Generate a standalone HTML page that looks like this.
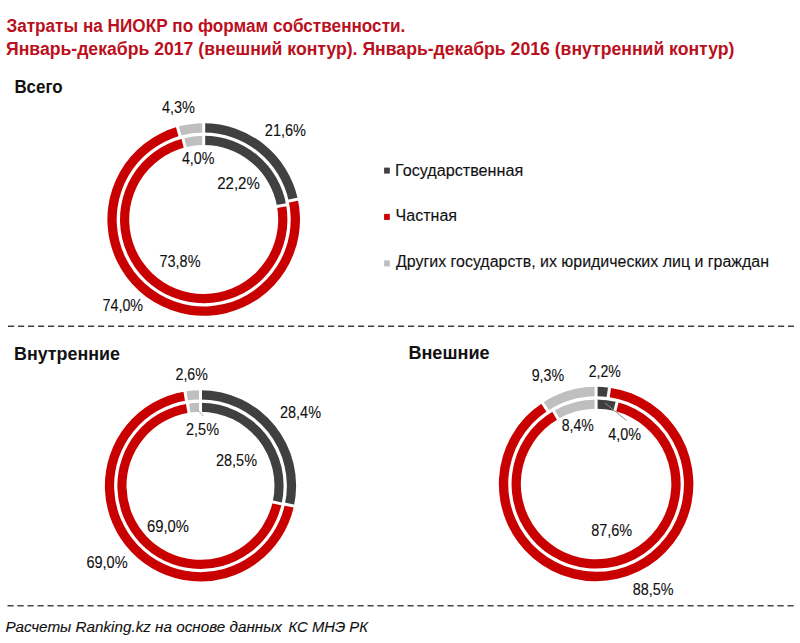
<!DOCTYPE html>
<html><head><meta charset="utf-8"><style>
html,body{margin:0;padding:0;background:#fff;width:800px;height:643px;overflow:hidden}
svg{display:block;font-family:"Liberation Sans",sans-serif}
</style></head><body>
<svg width="800" height="643" viewBox="0 0 800 643">
<rect width="800" height="643" fill="#fff"/>
<path d="M203.70,123.20A96.30,96.30 0 0 1 297.81,199.08L288.72,201.06A87.00,87.00 0 0 0 203.70,132.50Z" fill="#404040"/>
<path d="M297.81,199.08A96.30,96.30 0 1 1 177.41,126.86L179.95,135.80A87.00,87.00 0 1 0 288.72,201.06Z" fill="#C80000"/>
<path d="M177.41,126.86A96.30,96.30 0 0 1 203.70,123.20L203.70,132.50A87.00,87.00 0 0 0 179.95,135.80Z" fill="#BFBFBF"/>
<path d="M203.70,135.80A83.70,83.70 0 0 1 286.11,204.85L277.05,206.46A74.50,74.50 0 0 0 203.70,145.00Z" fill="#404040"/>
<path d="M286.11,204.85A83.70,83.70 0 1 1 182.88,138.43L185.17,147.34A74.50,74.50 0 1 0 277.05,206.46Z" fill="#C80000"/>
<path d="M182.88,138.43A83.70,83.70 0 0 1 203.70,135.80L203.70,145.00A74.50,74.50 0 0 0 185.17,147.34Z" fill="#BFBFBF"/>
<line x1="203.70" y1="134.50" x2="203.70" y2="121.20" stroke="#fff" stroke-width="3.0"/>
<line x1="286.77" y1="201.48" x2="299.77" y2="198.66" stroke="#fff" stroke-width="3.0"/>
<line x1="180.50" y1="137.73" x2="176.87" y2="124.93" stroke="#fff" stroke-width="3.0"/>
<line x1="203.70" y1="147.00" x2="203.70" y2="133.80" stroke="#fff" stroke-width="3.0"/>
<line x1="275.08" y1="206.81" x2="288.08" y2="204.50" stroke="#fff" stroke-width="3.0"/>
<line x1="185.67" y1="149.28" x2="182.39" y2="136.49" stroke="#fff" stroke-width="3.0"/>
<path d="M200.50,390.17A95.63,95.63 0 0 1 293.95,506.07L284.93,504.12A86.39,86.39 0 0 0 200.50,399.41Z" fill="#404040"/>
<path d="M293.95,506.07A95.63,95.63 0 1 1 184.95,391.45L186.45,400.56A86.39,86.39 0 1 0 284.93,504.12Z" fill="#C80000"/>
<path d="M184.95,391.45A95.63,95.63 0 0 1 200.50,390.17L200.50,399.41A86.39,86.39 0 0 0 186.45,400.56Z" fill="#BFBFBF"/>
<path d="M200.50,402.69A83.11,83.11 0 0 1 281.61,503.93L272.70,501.94A73.98,73.98 0 0 0 200.50,411.82Z" fill="#404040"/>
<path d="M281.61,503.93A83.11,83.11 0 1 1 187.50,403.71L188.93,412.73A73.98,73.98 0 1 0 272.70,501.94Z" fill="#C80000"/>
<path d="M187.50,403.71A83.11,83.11 0 0 1 200.50,402.69L200.50,411.82A73.98,73.98 0 0 0 188.93,412.73Z" fill="#BFBFBF"/>
<line x1="200.50" y1="401.41" x2="200.50" y2="388.17" stroke="#fff" stroke-width="3.0"/>
<line x1="282.97" y1="503.69" x2="295.91" y2="506.50" stroke="#fff" stroke-width="3.0"/>
<line x1="186.77" y1="402.53" x2="184.62" y2="389.47" stroke="#fff" stroke-width="3.0"/>
<line x1="200.50" y1="413.82" x2="200.50" y2="400.69" stroke="#fff" stroke-width="3.0"/>
<line x1="270.75" y1="501.50" x2="283.56" y2="504.37" stroke="#fff" stroke-width="3.0"/>
<line x1="189.24" y1="414.71" x2="187.19" y2="401.73" stroke="#fff" stroke-width="3.0"/>
<path d="M596.10,386.74A97.26,97.26 0 0 1 609.50,387.66L608.21,396.97A87.87,87.87 0 0 0 596.10,396.13Z" fill="#404040"/>
<path d="M609.50,387.66A97.26,97.26 0 1 1 542.45,402.88L547.63,410.71A87.87,87.87 0 1 0 608.21,396.97Z" fill="#C80000"/>
<path d="M542.45,402.88A97.26,97.26 0 0 1 596.10,386.74L596.10,396.13A87.87,87.87 0 0 0 547.63,410.71Z" fill="#BFBFBF"/>
<path d="M596.10,399.46A84.54,84.54 0 0 1 617.12,402.12L614.81,411.12A75.25,75.25 0 0 0 596.10,408.75Z" fill="#404040"/>
<path d="M617.12,402.12A84.54,84.54 0 1 1 553.53,410.97L558.20,418.99A75.25,75.25 0 1 0 614.81,411.12Z" fill="#C80000"/>
<path d="M553.53,410.97A84.54,84.54 0 0 1 596.10,399.46L596.10,408.75A75.25,75.25 0 0 0 558.20,418.99Z" fill="#BFBFBF"/>
<line x1="596.10" y1="398.13" x2="596.10" y2="384.74" stroke="#fff" stroke-width="3.0"/>
<line x1="607.93" y1="398.95" x2="609.78" y2="385.68" stroke="#fff" stroke-width="3.0"/>
<line x1="548.73" y1="412.38" x2="541.34" y2="401.21" stroke="#fff" stroke-width="3.0"/>
<line x1="596.10" y1="410.75" x2="596.10" y2="397.46" stroke="#fff" stroke-width="3.0"/>
<line x1="614.32" y1="413.06" x2="617.62" y2="400.18" stroke="#fff" stroke-width="3.0"/>
<line x1="559.21" y1="420.72" x2="552.52" y2="409.24" stroke="#fff" stroke-width="3.0"/>
<line x1="197" y1="409.5" x2="203.5" y2="416" stroke="#A6A6A6" stroke-width="1"/>
<line x1="605" y1="403" x2="626.5" y2="420.5" stroke="#8C8C8C" stroke-width="1"/>
<rect x="384.1" y="167.6" width="5.7" height="6" fill="#404040"/>
<rect x="384.1" y="213.9" width="5.7" height="6" fill="#C80000"/>
<rect x="384.1" y="260.4" width="5.7" height="6" fill="#BFBFBF"/>
<line x1="8" y1="326.25" x2="794" y2="326.25" stroke="#404040" stroke-width="1.6" stroke-dasharray="6.2 3.8"/>
<line x1="7.5" y1="605.7" x2="794" y2="605.7" stroke="#484848" stroke-width="1.35" stroke-dasharray="6.2 3.8"/>
<text x="6.40" y="32.00" textLength="399.00" lengthAdjust="spacingAndGlyphs" font-size="17.5" font-weight="bold" font-style="normal" fill="#BA1020" stroke="#BA1020" stroke-width="0.0" xml:space="preserve">Затраты на НИОКР по формам собственности.</text>
<text x="6.00" y="55.00" textLength="728.40" lengthAdjust="spacingAndGlyphs" font-size="17.5" font-weight="bold" font-style="normal" fill="#BA1020" stroke="#BA1020" stroke-width="0.0" xml:space="preserve">Январь-декабрь 2017 (внешний контур). Январь-декабрь 2016 (внутренний контур)</text>
<text x="14.40" y="93.20" textLength="48.20" lengthAdjust="spacingAndGlyphs" font-size="17.5" font-weight="bold" font-style="normal" fill="#111" stroke="#111" stroke-width="0.0" xml:space="preserve">Всего</text>
<text x="395.00" y="175.50" textLength="128.20" lengthAdjust="spacingAndGlyphs" font-size="16" font-weight="normal" font-style="normal" fill="#111" stroke="#111" stroke-width="0.12" xml:space="preserve">Государственная</text>
<text x="395.60" y="221.20" textLength="61.40" lengthAdjust="spacingAndGlyphs" font-size="16" font-weight="normal" font-style="normal" fill="#111" stroke="#111" stroke-width="0.12" xml:space="preserve">Частная</text>
<text x="396.00" y="266.80" textLength="373.00" lengthAdjust="spacingAndGlyphs" font-size="16" font-weight="normal" font-style="normal" fill="#111" stroke="#111" stroke-width="0.12" xml:space="preserve">Других государств, их юридических лиц и граждан</text>
<text x="161.90" y="112.80" textLength="33.10" lengthAdjust="spacingAndGlyphs" font-size="16" font-weight="normal" font-style="normal" fill="#111" stroke="#111" stroke-width="0.12" xml:space="preserve">4,3%</text>
<text x="264.80" y="135.70" textLength="41.20" lengthAdjust="spacingAndGlyphs" font-size="16" font-weight="normal" font-style="normal" fill="#111" stroke="#111" stroke-width="0.12" xml:space="preserve">21,6%</text>
<text x="181.90" y="164.40" textLength="32.50" lengthAdjust="spacingAndGlyphs" font-size="16" font-weight="normal" font-style="normal" fill="#111" stroke="#111" stroke-width="0.12" xml:space="preserve">4,0%</text>
<text x="217.20" y="188.50" textLength="42.60" lengthAdjust="spacingAndGlyphs" font-size="16" font-weight="normal" font-style="normal" fill="#111" stroke="#111" stroke-width="0.12" xml:space="preserve">22,2%</text>
<text x="159.50" y="267.00" textLength="41.00" lengthAdjust="spacingAndGlyphs" font-size="16" font-weight="normal" font-style="normal" fill="#111" stroke="#111" stroke-width="0.12" xml:space="preserve">73,8%</text>
<text x="102.50" y="311.00" textLength="40.60" lengthAdjust="spacingAndGlyphs" font-size="16" font-weight="normal" font-style="normal" fill="#111" stroke="#111" stroke-width="0.12" xml:space="preserve">74,0%</text>
<text x="14.00" y="360.00" textLength="106.00" lengthAdjust="spacingAndGlyphs" font-size="17.5" font-weight="bold" font-style="normal" fill="#111" stroke="#111" stroke-width="0.0" xml:space="preserve">Внутренние</text>
<text x="408.40" y="359.40" textLength="81.20" lengthAdjust="spacingAndGlyphs" font-size="17.5" font-weight="bold" font-style="normal" fill="#111" stroke="#111" stroke-width="0.0" xml:space="preserve">Внешние</text>
<text x="175.50" y="379.50" textLength="32.30" lengthAdjust="spacingAndGlyphs" font-size="16" font-weight="normal" font-style="normal" fill="#111" stroke="#111" stroke-width="0.12" xml:space="preserve">2,6%</text>
<text x="280.00" y="418.00" textLength="41.00" lengthAdjust="spacingAndGlyphs" font-size="16" font-weight="normal" font-style="normal" fill="#111" stroke="#111" stroke-width="0.12" xml:space="preserve">28,4%</text>
<text x="186.00" y="435.40" textLength="33.00" lengthAdjust="spacingAndGlyphs" font-size="16" font-weight="normal" font-style="normal" fill="#111" stroke="#111" stroke-width="0.12" xml:space="preserve">2,5%</text>
<text x="216.00" y="466.40" textLength="41.00" lengthAdjust="spacingAndGlyphs" font-size="16" font-weight="normal" font-style="normal" fill="#111" stroke="#111" stroke-width="0.12" xml:space="preserve">28,5%</text>
<text x="147.00" y="532.40" textLength="42.00" lengthAdjust="spacingAndGlyphs" font-size="16" font-weight="normal" font-style="normal" fill="#111" stroke="#111" stroke-width="0.12" xml:space="preserve">69,0%</text>
<text x="86.40" y="568.00" textLength="41.20" lengthAdjust="spacingAndGlyphs" font-size="16" font-weight="normal" font-style="normal" fill="#111" stroke="#111" stroke-width="0.12" xml:space="preserve">69,0%</text>
<text x="531.70" y="381.00" textLength="32.50" lengthAdjust="spacingAndGlyphs" font-size="16" font-weight="normal" font-style="normal" fill="#111" stroke="#111" stroke-width="0.12" xml:space="preserve">9,3%</text>
<text x="588.70" y="376.50" textLength="32.00" lengthAdjust="spacingAndGlyphs" font-size="16" font-weight="normal" font-style="normal" fill="#111" stroke="#111" stroke-width="0.12" xml:space="preserve">2,2%</text>
<text x="561.70" y="431.20" textLength="32.10" lengthAdjust="spacingAndGlyphs" font-size="16" font-weight="normal" font-style="normal" fill="#111" stroke="#111" stroke-width="0.12" xml:space="preserve">8,4%</text>
<text x="608.20" y="439.50" textLength="32.80" lengthAdjust="spacingAndGlyphs" font-size="16" font-weight="normal" font-style="normal" fill="#111" stroke="#111" stroke-width="0.12" xml:space="preserve">4,0%</text>
<text x="591.20" y="536.30" textLength="41.00" lengthAdjust="spacingAndGlyphs" font-size="16" font-weight="normal" font-style="normal" fill="#111" stroke="#111" stroke-width="0.12" xml:space="preserve">87,6%</text>
<text x="632.70" y="594.60" textLength="40.80" lengthAdjust="spacingAndGlyphs" font-size="16" font-weight="normal" font-style="normal" fill="#111" stroke="#111" stroke-width="0.12" xml:space="preserve">88,5%</text>
<text x="5.45" y="631.75" textLength="276.55" lengthAdjust="spacingAndGlyphs" font-size="15" font-weight="normal" font-style="italic" fill="#111" stroke="#111" stroke-width="0.12" xml:space="preserve">Расчеты Ranking.kz на основе данных</text>
<text x="288.50" y="631.75" textLength="79.50" lengthAdjust="spacingAndGlyphs" font-size="15" font-weight="normal" font-style="italic" fill="#111" stroke="#111" stroke-width="0.12" xml:space="preserve">КС МНЭ РК</text>
</svg>
</body></html>
